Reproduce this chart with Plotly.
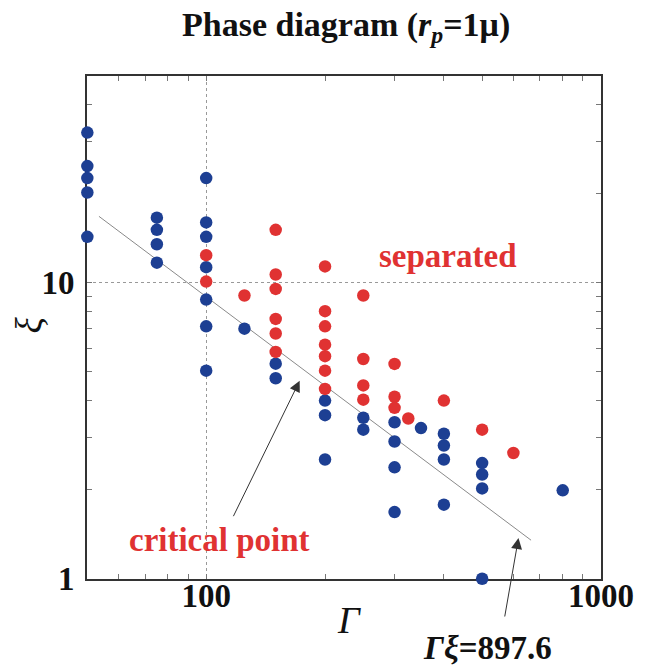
import numpy as np
import plotly.graph_objects as go

# ---- data ----
mixed_gamma = [50, 50, 50, 50, 50,
               75, 75, 75, 75,
               100, 100, 100, 100, 100, 100, 100,
               125,
               150, 150,
               200, 200, 200,
               250, 250,
               300, 300, 300, 300,
               350,
               400, 400, 400, 400,
               500, 500, 500, 500,
               800]
mixed_xi = [32.2, 24.8, 22.6, 20.2, 14.3,
            16.6, 15.1, 13.5, 11.7,
            22.6, 16.0, 14.3, 11.3, 8.78, 7.13, 5.05,
            7.0,
            5.33, 4.76,
            4.0, 3.57, 2.53,
            3.5, 3.19,
            3.38, 2.91, 2.38, 1.68,
            3.23,
            3.09, 2.82, 2.53, 1.78,
            2.46, 2.25, 2.02, 1.0,
            1.99]

sep_gamma = [100, 100,
             125,
             150, 150, 150, 150, 150, 150,
             200, 200, 200, 200, 200, 200, 200,
             250, 250, 250, 250,
             300, 300, 300,
             325,
             400,
             500,
             600]
sep_xi = [12.4, 10.1,
          9.06,
          15.1, 10.67, 9.54, 7.55, 6.74, 5.84,
          11.36, 8.02, 7.13, 6.18, 5.65, 5.05, 4.38,
          9.06, 5.53, 4.50, 4.03,
          5.32, 4.12, 3.78,
          3.48,
          4.0,
          3.19,
          2.66]

critical_product = 897.6
line_gamma = [53.5, 665]
line_xi = [critical_product / g for g in line_gamma]

x_range = [49.9, 1000]
y_range = [0.998, 50]

BLUE = "#1d3f93"
RED = "#e03232"
SERIF = "Liberation Serif, Times New Roman, serif"

fig = go.Figure()

fig.add_trace(go.Scatter(x=line_gamma, y=line_xi, mode="lines",
                         line=dict(color="#8a8a8a", width=1),
                         showlegend=False, hoverinfo="skip"))
fig.add_trace(go.Scatter(x=mixed_gamma, y=mixed_xi, mode="markers",
                         marker=dict(color=BLUE, size=12.5),
                         cliponaxis=False, showlegend=False, name="mixed"))
fig.add_trace(go.Scatter(x=sep_gamma, y=sep_xi, mode="markers",
                         marker=dict(color=RED, size=12.5),
                         cliponaxis=False, showlegend=False, name="separated"))

axis_common = dict(
    type="log",
    tickmode="linear", tick0=0, dtick=1,
    ticks="inside", ticklen=5, tickcolor="#777", tickwidth=1,
    minor=dict(dtick="D1", ticks="inside", ticklen=5, tickcolor="#777",
               tickwidth=1, showgrid=False),
    showgrid=True, gridcolor="#999", griddash="dot", gridwidth=1,
    showline=True, linecolor="#333", linewidth=2, mirror="allticks",
    tickfont=dict(family=SERIF, size=33, color="#111", weight="bold"),
    layer="below traces",
    zeroline=False,
)

fig.update_xaxes(range=[np.log10(x_range[0]), np.log10(x_range[1])],
                 ticklabelstandoff=-14, **axis_common)
fig.update_yaxes(range=[np.log10(y_range[0]), np.log10(y_range[1])],
                 ticklabelstandoff=4, **axis_common)

common_ann = dict(xref="paper", yref="paper", showarrow=False,
                  xanchor="center", yanchor="middle")
annotations = [
    dict(text="<b>Phase diagram (<i>r</i><sub><i>p</i></sub>=1μ)</b>",
         x=0.504, y=1.098, font=dict(family=SERIF, size=34, color="#111"), **common_ann),
    dict(text="<b>separated</b>", x=0.702, y=0.643,
         font=dict(family=SERIF, size=33, color=RED), **common_ann),
    dict(text="<b>critical point</b>", x=0.257, y=0.078,
         font=dict(family=SERIF, size=33, color=RED), **common_ann),
    dict(text="<b><i>Γξ</i>=897.6</b>", x=0.78, y=-0.137,
         font=dict(family=SERIF, size=33, color="#111"), **common_ann),
    dict(text="<i>Γ</i>", x=0.5097, y=-0.0815,
         font=dict(family=SERIF, size=38, color="#111"), **common_ann),
    dict(text="<i>ξ</i>", x=-0.112, y=0.505, textangle=-90,
         font=dict(family=SERIF, size=38, color="#111"), **common_ann),
    # arrows
    dict(text="", x=np.log10(172.5), y=np.log10(4.67), xref="x", yref="y",
         showarrow=True, ax=-67, ay=137, arrowhead=2, arrowsize=2.2,
         arrowwidth=1, arrowcolor="#333"),
    dict(text="", x=np.log10(618), y=np.log10(1.373), xref="x", yref="y",
         showarrow=True, ax=-14, ay=80, arrowhead=2, arrowsize=2.2,
         arrowwidth=1, arrowcolor="#333"),
]

fig.update_layout(
    width=652, height=669,
    margin=dict(l=87, r=51, t=76, b=90),
    plot_bgcolor="white", paper_bgcolor="white",
    annotations=annotations,
    showlegend=False,
)

fig.write_html("out.html")
